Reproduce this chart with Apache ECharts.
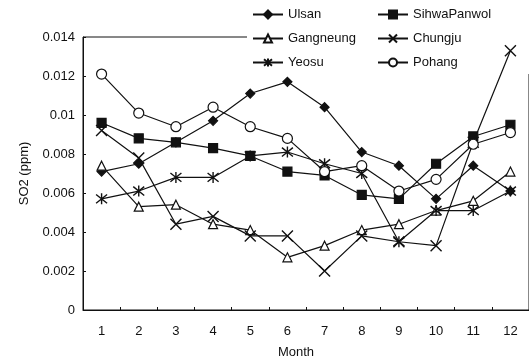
<!DOCTYPE html>
<html>
<head>
<meta charset="utf-8">
<script src="https://cdn.jsdelivr.net/npm/echarts@6/dist/echarts.min.js"></script>
<style>
  html, body { margin: 0; padding: 0; background: #fff; }
  #chart { width: 529px; height: 364px; }
</style>
</head>
<body>
<div id="chart"></div>
<script>
// Monthly mean SO2 concentration (ppm) at six monitoring sites
const months = ['1', '2', '3', '4', '5', '6', '7', '8', '9', '10', '11', '12'];
const ulsan       = [0.0071, 0.0075, 0.0086, 0.0097, 0.0111, 0.0117, 0.0104, 0.0081, 0.0074, 0.0057, 0.0074, 0.0061];
const sihwaPanwol = [0.0096, 0.0088, 0.0086, 0.0083, 0.0079, 0.0071, 0.0069, 0.0059, 0.0057, 0.0075, 0.0089, 0.0095];
const gangneung   = [0.0074, 0.0053, 0.0054, 0.0044, 0.0041, 0.0027, 0.0033, 0.0041, 0.0044, 0.0051, 0.0056, 0.0071];
const chungju     = [0.0092, 0.0078, 0.0044, 0.0048, 0.0038, 0.0038, 0.0020, 0.0038, 0.0035, 0.0033, 0.0086, 0.0133];
const yeosu       = [0.0057, 0.0061, 0.0068, 0.0068, 0.0079, 0.0081, 0.0075, 0.0070, 0.0035, 0.0051, 0.0051, 0.0061];
const pohang      = [0.0121, 0.0101, 0.0094, 0.0104, 0.0094, 0.0088, 0.0071, 0.0074, 0.0061, 0.0067, 0.0085, 0.0091];

const FONT = "'Liberation Sans', Arial, Helvetica, sans-serif";
const INK = '#111';

// stroke-only marker shapes
const crossPath = 'path://M0,0L10,10M10,0L0,10';
const starPath = 'path://M5,0L5,10M1,1L9,9M9,1L1,9';

function site(name, data, symbol, size, filled) {
  const strokeOnly = symbol.indexOf('path://') === 0;
  return {
    name: name,
    type: 'line',
    data: data,
    z: 6,
    symbol: symbol,
    symbolSize: size,
    showSymbol: true,
    animation: false,
    lineStyle: { color: INK, width: 1.2 },
    itemStyle: {
      color: strokeOnly ? 'none' : (filled ? INK : '#fff'),
      borderColor: INK,
      borderWidth: strokeOnly ? 1.4 : 1.2
    },
    emphasis: { disabled: true }
  };
}

const chart = echarts.init(document.getElementById('chart'), null, { renderer: 'canvas' });

const legendBase = {
  orient: 'vertical',
  itemWidth: 30,
  itemHeight: 10,
  itemGap: 11,
  backgroundColor: '#fff',
  textStyle: { fontFamily: FONT, fontSize: 13, color: INK },
  inactiveColor: INK,
  selectedMode: false,
  z: 4
};

chart.setOption({
  backgroundColor: '#fff',
  textStyle: { fontFamily: FONT },
  grid: {
    left: 83, top: 37, right: -2, bottom: 54,
    show: true, borderColor: INK, borderWidth: 1, backgroundColor: 'transparent'
  },
  legend: [
    Object.assign({}, legendBase, {
      left: 247, top: 3, padding: [5, 30, 5, 5],
      data: ['Ulsan', 'Gangneung', 'Yeosu']
    }),
    Object.assign({}, legendBase, {
      left: 372, top: 3, padding: [5, 60, 5, 5],
      data: ['SihwaPanwol', 'Chungju', 'Pohang']
    })
  ],
  xAxis: {
    type: 'category',
    data: months,
    boundaryGap: true,
    name: 'Month',
    nameLocation: 'middle',
    nameGap: 36,
    nameTextStyle: { fontFamily: FONT, fontSize: 13, color: INK, padding: [0, 20, 0, 0] },
    axisLine: { lineStyle: { color: INK, width: 1 } },
    axisTick: { show: true, inside: true, length: 3, alignWithLabel: false, lineStyle: { color: INK } },
    axisLabel: { fontFamily: FONT, fontSize: 13, color: INK, margin: 15 },
    splitLine: { show: false }
  },
  yAxis: {
    type: 'value',
    min: 0,
    max: 0.014,
    interval: 0.002,
    name: 'SO2 (ppm)',
    nameLocation: 'middle',
    nameGap: 52,
    nameTextStyle: { fontFamily: FONT, fontSize: 13, color: INK },
    axisLine: { show: true, lineStyle: { color: INK, width: 1 } },
    axisTick: { show: true, inside: true, length: 3, lineStyle: { color: INK } },
    axisLabel: { fontFamily: FONT, fontSize: 13, color: INK, margin: 8 },
    splitLine: { show: false }
  },
  series: [
    site('Ulsan', ulsan, 'diamond', 9, true),
    site('SihwaPanwol', sihwaPanwol, 'rect', 9, true),
    site('Gangneung', gangneung, 'triangle', 9, false),
    site('Chungju', chungju, crossPath, 11, false),
    site('Yeosu', yeosu, starPath, 11, false),
    site('Pohang', pohang, 'circle', 10, false)
  ]
});
</script>
</body>
</html>
